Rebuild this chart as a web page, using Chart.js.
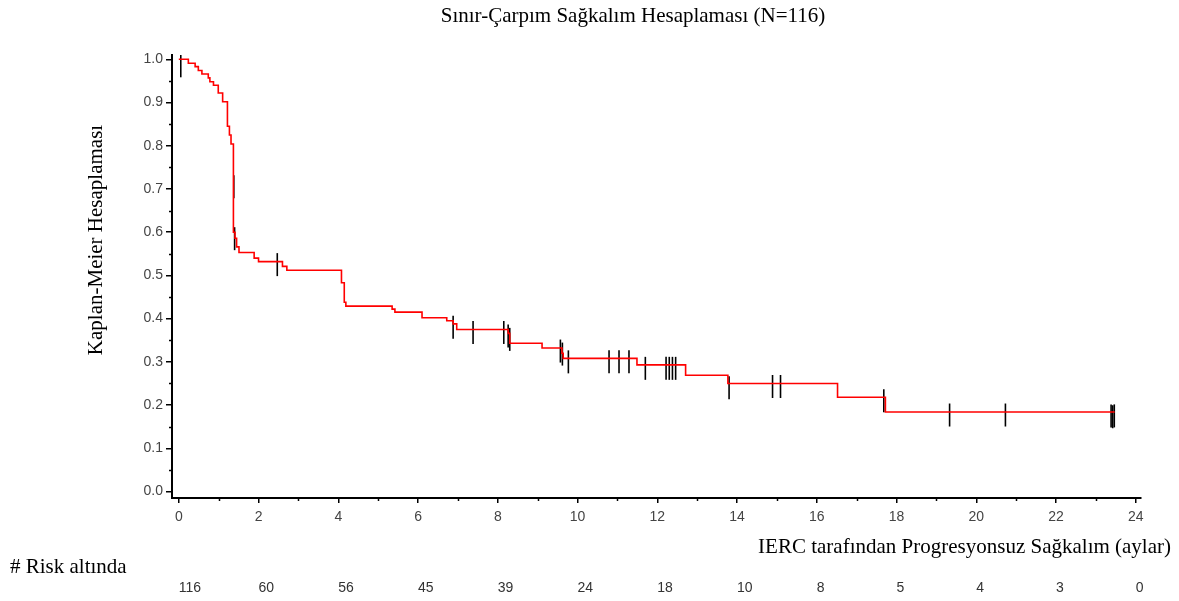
<!DOCTYPE html>
<html>
<head>
<meta charset="utf-8">
<title>Sınır-Çarpım Sağkalım Hesaplaması</title>
<script src="https://cdn.jsdelivr.net/npm/chart.js@4.4.1/dist/chart.umd.min.js"></script>
<style>
  html, body { margin: 0; padding: 0; background: #fff; }
  #wrap { position: relative; width: 1179px; height: 601px; }
</style>
</head>
<body>
<div id="wrap"><canvas id="km-chart" width="1179" height="601"></canvas></div>
<script>
// Kaplan-Meier step points (months, survival estimate)
const kmTimes = [0, 0.24, 0.41, 0.49, 0.58, 0.74, 0.78, 0.87, 0.99, 1.10, 1.22, 1.27, 1.31,
  1.37, 1.41, 1.45, 1.51, 1.89, 2.00, 2.60, 2.71, 4.08, 4.15, 4.19, 5.35, 5.42, 6.10,
  6.72, 6.88, 6.97, 8.26, 8.30, 9.11, 9.61, 9.64, 11.49, 12.71, 13.77, 16.52, 17.72, 23.47];
const kmSurvival = [1.000, 0.991, 0.983, 0.974, 0.966, 0.957, 0.948, 0.940, 0.922, 0.902, 0.845, 0.825, 0.804,
  0.600, 0.586, 0.566, 0.553, 0.540, 0.532, 0.521, 0.512, 0.483, 0.438, 0.429, 0.422, 0.415, 0.402,
  0.395, 0.388, 0.375, 0.366, 0.343, 0.332, 0.320, 0.308, 0.293, 0.269, 0.250, 0.218, 0.184, 0.184];

// censored observations
const censorTimes = [0.05, 1.38, 1.40, 2.47, 6.88, 7.38, 8.15, 8.26, 8.30, 9.57, 9.62, 9.77,
  10.79, 11.04, 11.29, 11.70, 12.22, 12.30, 12.38, 12.46, 13.80, 14.89, 15.09, 17.68,
  19.33, 20.73, 23.38, 23.42, 23.46];
const censorSurvival = [0.985, 0.705, 0.585, 0.525, 0.380, 0.368, 0.368, 0.360, 0.352, 0.325, 0.318, 0.300,
  0.300, 0.300, 0.300, 0.285, 0.285, 0.285, 0.285, 0.285, 0.240, 0.243, 0.243, 0.210,
  0.177, 0.177, 0.175, 0.173, 0.175];

// number at risk table
const riskTimes = [0, 2, 4, 6, 8, 10, 12, 14, 16, 18, 20, 22, 24];
const riskCounts = [116, 60, 56, 45, 39, 24, 18, 10, 8, 5, 4, 3, 0];

const xTicks = [0, 2, 4, 6, 8, 10, 12, 14, 16, 18, 20, 22, 24];
const xMinorTicks = [1, 3, 5, 7, 9, 11, 13, 15, 17, 19, 21, 23];
const yTicks = [0, 0.1, 0.2, 0.3, 0.4, 0.5, 0.6, 0.7, 0.8, 0.9, 1.0];
const yMinorTicks = [0.05, 0.15, 0.25, 0.35, 0.45, 0.55, 0.65, 0.75, 0.85, 0.95];

const chartTitle = 'Sınır-Çarpım Sağkalım Hesaplaması (N=116)';
const xTitle = 'IERC tarafından Progresyonsuz Sağkalım (aylar)';
const yTitle = 'Kaplan-Meier Hesaplaması';
const riskTitle = '# Risk altında';

const serif = '"Liberation Serif", "Times New Roman", serif';
const sans = '"Liberation Sans", Arial, sans-serif';

// minor ticks, titles and the risk table
const decorations = {
  id: 'decorations',
  afterDraw(chart) {
    const { ctx, chartArea, scales } = chart;
    const xs = scales.x, ys = scales.y;
    ctx.save();
    ctx.strokeStyle = '#000';
    ctx.lineWidth = 1.5;
    ctx.beginPath();
    xMinorTicks.forEach(v => {
      const px = Math.round(xs.getPixelForValue(v)) + 0.5;
      ctx.moveTo(px, chartArea.bottom);
      ctx.lineTo(px, chartArea.bottom + 3);
    });
    yMinorTicks.forEach(v => {
      const py = Math.round(ys.getPixelForValue(v)) + 0.5;
      ctx.moveTo(chartArea.left - 3, py);
      ctx.lineTo(chartArea.left, py);
    });
    ctx.stroke();

    ctx.fillStyle = '#000';
    ctx.font = '21px ' + serif;
    ctx.textBaseline = 'middle';
    ctx.textAlign = 'center';
    ctx.fillText(chartTitle, 633, 16);

    ctx.textAlign = 'right';
    ctx.fillText(xTitle, 1171, 547);

    ctx.textAlign = 'left';
    ctx.fillText(riskTitle, 10, 567);

    ctx.save();
    ctx.translate(96, 240);
    ctx.rotate(-Math.PI / 2);
    ctx.textAlign = 'center';
    ctx.fillText(yTitle, 0, 0);
    ctx.restore();

    // at-risk counts start at their month
    ctx.font = '14px ' + sans;
    ctx.fillStyle = '#333';
    ctx.textAlign = 'left';
    riskTimes.forEach((t, i) => {
      ctx.fillText(String(riskCounts[i]), xs.getPixelForValue(t), 588);
    });
    ctx.restore();
  }
};

const ctx = document.getElementById('km-chart').getContext('2d');
new Chart(ctx, {
  type: 'scatter',
  data: {
    datasets: [
      {
        type: 'line',
        data: kmTimes.map((t, i) => ({ x: t, y: kmSurvival[i] })),
        stepped: true,
        borderColor: '#ff0000',
        borderWidth: 1.6,
        pointRadius: 0,
        fill: false
      },
      {
        type: 'scatter',
        data: censorTimes.map((t, i) => ({ x: t, y: censorSurvival[i] })),
        pointStyle: 'line',
        rotation: 90,
        radius: 11.5,
        borderColor: '#000',
        backgroundColor: '#000',
        borderWidth: 1.6
      }
    ]
  },
  options: {
    responsive: false,
    animation: false,
    layout: { padding: { top: 55, right: 38, left: 0, bottom: 0 } },
    plugins: {
      legend: { display: false },
      tooltip: { enabled: false }
    },
    scales: {
      x: {
        type: 'linear',
        min: -0.17,
        max: 24.13,
        afterBuildTicks: s => { s.ticks = xTicks.map(v => ({ value: v })); },
        afterFit: s => { s.height = 103; },
        grid: { drawOnChartArea: false, drawTicks: true, tickLength: 5, color: '#000', lineWidth: 1.5 },
        border: { display: true, color: '#000', width: 2 },
        ticks: {
          padding: 6,
          color: '#444',
          font: { family: sans, size: 14 },
          maxRotation: 0,
          callback: v => String(v)
        }
      },
      y: {
        type: 'linear',
        min: -0.015,
        max: 1.01,
        afterBuildTicks: s => { s.ticks = yTicks.map(v => ({ value: v })); },
        afterFit: s => { s.width = 172; },
        grid: { drawOnChartArea: false, drawTicks: true, tickLength: 6, color: '#000', lineWidth: 1.5 },
        border: { display: true, color: '#000', width: 2 },
        ticks: {
          padding: 3,
          color: '#444',
          font: { family: sans, size: 14 },
          callback: v => v.toFixed(1)
        }
      }
    }
  },
  plugins: [decorations]
});
</script>
</body>
</html>
